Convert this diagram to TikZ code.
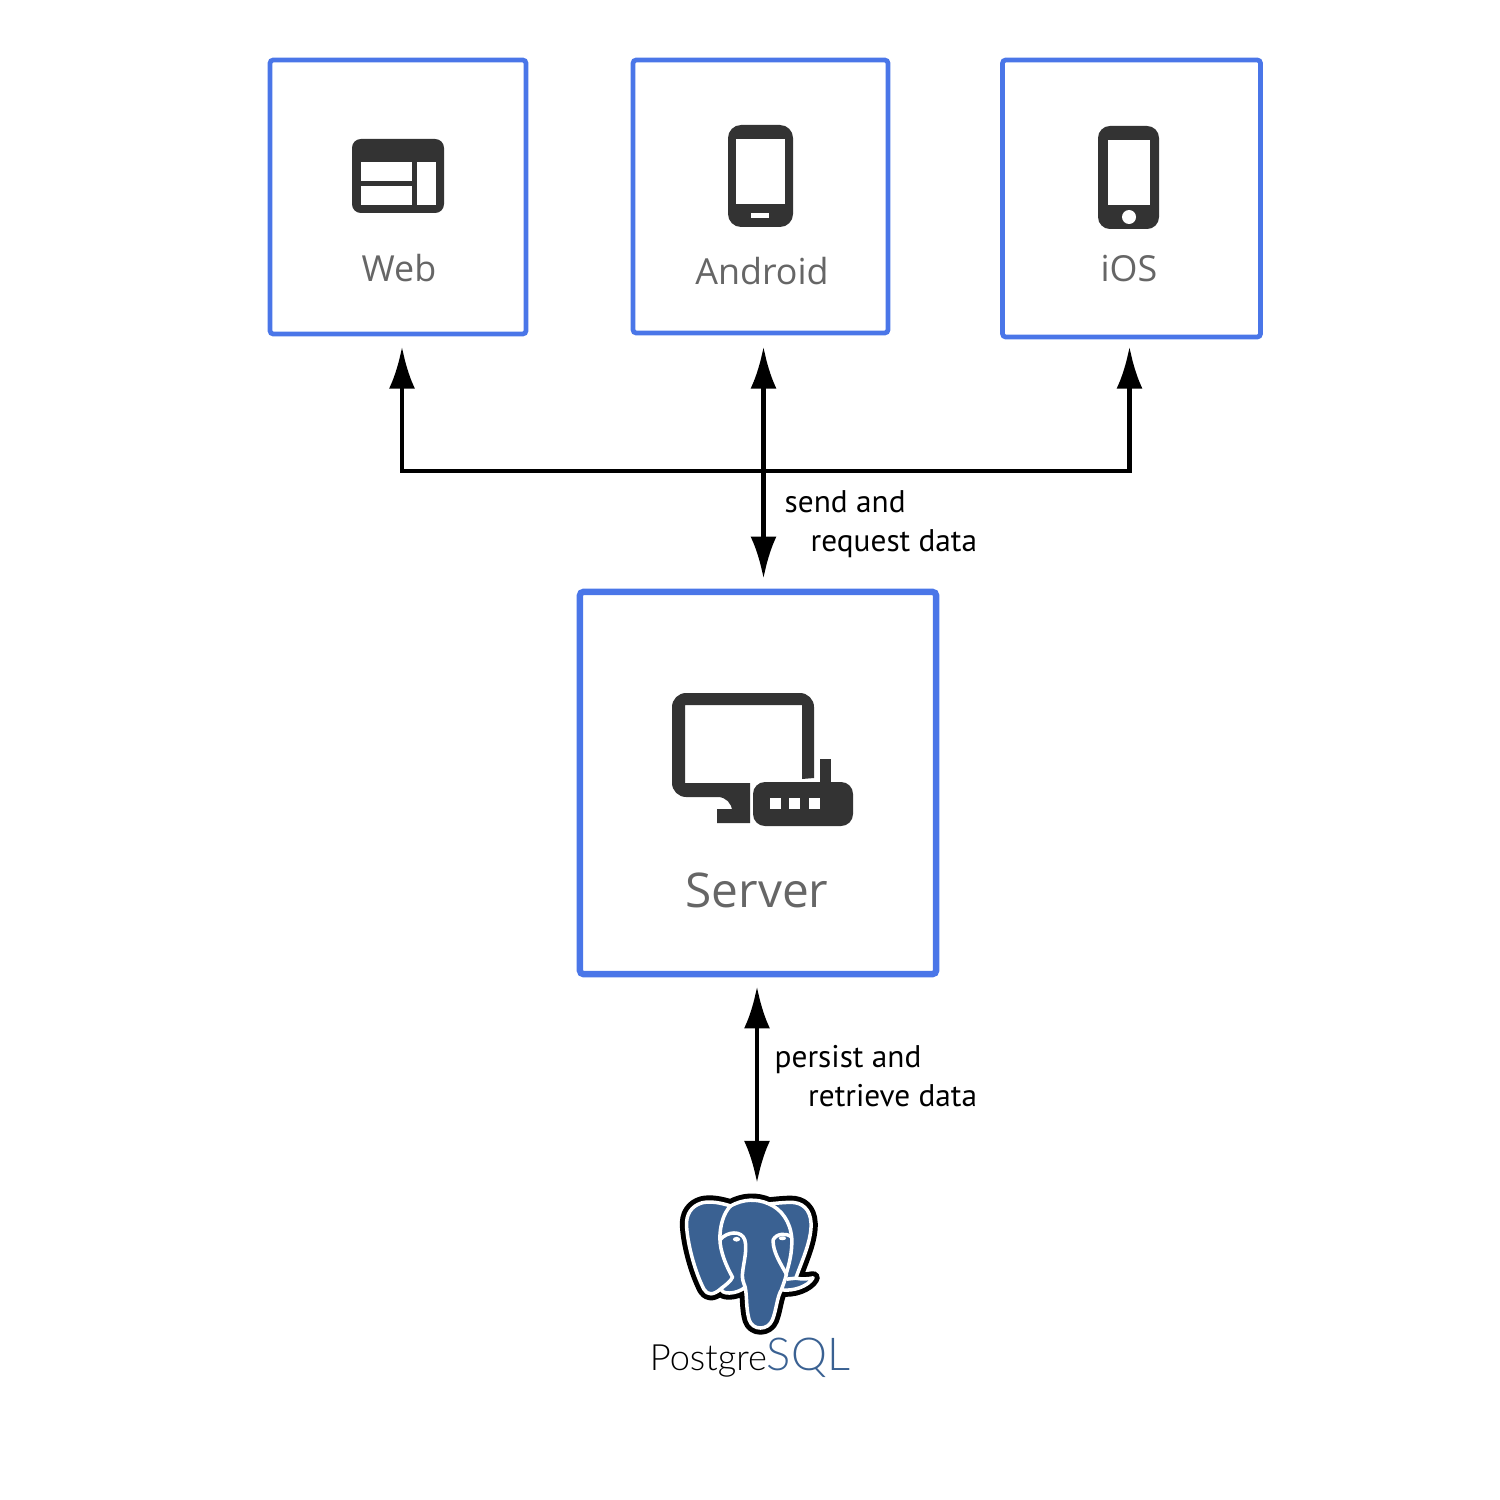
\documentclass[tikz,border=0pt]{standalone}
\usepackage{fontspec}
\setmainfont{Open Sans}
\newfontfamily\logofont{Lato Light}
\newfontfamily\notefont{PT Sans}
\usetikzlibrary{calc,positioning,arrows.meta}

\definecolor{boxblue}{HTML}{4A76E8}
\definecolor{icongray}{HTML}{333333}
\definecolor{textgray}{HTML}{666666}
\definecolor{pgblue}{HTML}{3A6192}

\tikzset{
  clientbox/.style={draw=boxblue,line width=1.35pt,rounded corners=1pt,inner sep=0pt},
  serverbox/.style={draw=boxblue,line width=1.8pt,rounded corners=1pt,inner sep=0pt},
  boxlabel/.style={text=textgray,inner sep=0pt,font=\fontsize{10.2}{13}\selectfont},
  edgelabel/.style={text=black,inner sep=0pt,align=left,font=\notefont\fontsize{8.9}{11}\selectfont},
  link/.style={line width=1.4pt,-{Latex[length=12pt,width=7.4pt]}},
  duplex/.style={line width=1.4pt,{Latex[length=12pt,width=7.4pt]}-{Latex[length=12pt,width=7.4pt]}},
  icon/.style={fill=icongray},
  hole/.style={fill=white}
}

\begin{document}
\begin{tikzpicture}[x=0.01cm,y=-0.01cm]
\useasboundingbox (0,0) rectangle (1500,1500);

% boxes
\node[clientbox,minimum width=2.56cm,minimum height=2.74cm] (web) at (398,197) {};
\node[clientbox,minimum width=2.55cm,minimum height=2.73cm] (android) at (760.5,196.5) {};
\node[clientbox,minimum width=2.58cm,minimum height=2.77cm] (ios) at (1131.5,198.5) {};
\node[serverbox,minimum width=3.56cm,minimum height=3.82cm] (server) at (758,783) {};

% labels
\node[boxlabel] (weblabel) at (399,268) {Web};
\node[boxlabel] (androidlabel) at (762,271) {Android};
\node[boxlabel] (ioslabel) at (1129,269) {iOS};
\node[boxlabel,font=\fontsize{13.6}{17}\selectfont] (serverlabel) at (757,890) {Server};

% web icon
\fill[icon,rounded corners=2.5pt] (352,139) rectangle (444,213);
\fill[hole] (361,162) rectangle (412,181);
\fill[hole] (361,186) rectangle (412,205);
\fill[hole] (417,162) rectangle (436,205);

% android icon
\fill[icon,rounded corners=3.7pt] (728,125) rectangle (793,227);
\fill[hole] (736,139) rectangle (785,204);
\fill[hole] (751,213) rectangle (769,218);

% ios icon
\fill[icon,rounded corners=3.4pt] (1098,126) rectangle (1159,229);
\fill[hole] (1108,140) rectangle (1150,205);
\fill[hole] (1129,217) circle (7);

% server icon
\fill[icon,rounded corners=4pt] (814,778) -- (814,693) -- (672,693) -- (672,797)
  -- (732,797) [sharp corners] -- (732,809) -- (717,809) -- (717,823) -- (750,823)
  -- (750,783) -- (685,783) -- (685,705) -- (802,705) -- (802,779) -- cycle;
\fill[icon] (820,759) rectangle (831,785);
\fill[icon,rounded corners=3.4pt] (753,782) rectangle (853,826);
\foreach \x in {770,789,809} {
  \fill[hole] (\x,798) rectangle ++(11,11);
}

% elephant, in its own grid
\begin{scope}[shift={(640,1180)},x=0.00333cm,y=-0.00333cm,line join=round]
\def\elephant{(185,69) .. controls (155,78) and (137,103) .. (140,140)
  .. controls (144,200) and (167,280) .. (192,328) .. controls (202,346) and (220,348) .. (245,325)
  .. controls (240,345) and (290,345) .. (316,322) .. controls (322,350) and (318,385) .. (328,420)
  .. controls (338,453) and (385,453) .. (398,420) .. controls (410,390) and (412,350) .. (425,330)
  .. controls (460,335) and (505,320) .. (520,294) .. controls (503,298) and (485,298) .. (468,295)
  .. controls (488,240) and (516,180) .. (514,130) .. controls (512,88) and (488,66) .. (450,67)
  .. controls (425,68) and (405,70) .. (388,72) .. controls (350,55) and (310,57) .. (272,78)
  .. controls (245,69) and (210,62) .. (185,69) -- cycle}
\draw[black,line width=3.8pt] \elephant;
\fill[pgblue] \elephant;
\draw[white,line width=1pt] \elephant;
\draw[white,line width=1pt] (272,78) .. controls (250,100) and (240,140) .. (240,175)
  .. controls (240,215) and (260,260) .. (278,292) .. controls (272,305) and (258,315) .. (245,325);
\draw[white,line width=1pt] (242,178) .. controls (262,155) and (305,150) .. (315,180)
  .. controls (325,215) and (305,265) .. (308,295) .. controls (310,308) and (314,315) .. (316,322);
\draw[white,line width=1pt] (388,72) .. controls (425,88) and (452,125) .. (456,175)
  .. controls (458,215) and (448,255) .. (438,285);
\draw[white,line width=1pt] (456,172) .. controls (440,158) and (410,160) .. (400,180)
  .. controls (398,215) and (425,255) .. (440,283) .. controls (436,300) and (430,315) .. (425,330);
\draw[white,line width=1pt] (440,298) -- (468,295);
\fill[white] (290,178) ellipse (11 and 7);
\fill[white] (428,175) ellipse (11 and 6);
\end{scope}
\node[inner sep=0pt,anchor=base,font=\logofont\fontsize{10.3}{13}\selectfont] (pglogo) at (750,1370)
  {Postgre{\fontsize{12.9}{13}\selectfont\color{pgblue}SQL}};

% connectors
\coordinate (webport) at ($(web.south)+(4,10)$);
\coordinate (androidport) at ($(android.south)+(3,11)$);
\coordinate (iosport) at ($(ios.south)+(-2,7)$);
\coordinate (serverport) at ($(server.north)+(5.5,-10)$);
\coordinate (serverdown) at ($(server.south)+(-1,9)$);
\coordinate (pgport) at (757,1183);
\draw[link] (androidport |- 0,471) -| (webport);
\draw[link] (androidport |- 0,471) -| (iosport);
\draw[duplex] (serverport) -- (androidport);
\draw[duplex] (serverdown) -- (pgport);

\node[edgelabel,anchor=north west] (sendlabel) at (784,490) {send and\\\hspace*{0.26cm}request data};
\node[edgelabel,anchor=north west] (persistlabel) at (774,1045) {persist and\\\hspace*{0.335cm}retrieve data};
\end{tikzpicture}
\end{document}
